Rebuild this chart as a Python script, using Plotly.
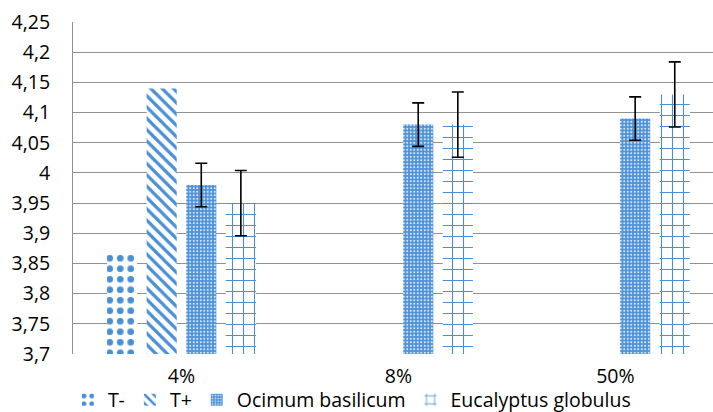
import plotly.graph_objects as go

categories = ["4%", "8%", "50%"]
t_minus = [3.87, None, None]
t_plus = [4.14, None, None]
ocimum = [3.98, 4.08, 4.09]
ocimum_err = [0.036, 0.036, 0.036]
eucalyptus = [3.95, 4.08, 4.13]
eucalyptus_err = [0.054, 0.054, 0.054]
y_ticks = [3.7, 3.75, 3.8, 3.85, 3.9, 3.95, 4.0, 4.05, 4.1, 4.15, 4.2, 4.25]
y_tick_labels = ["3,7", "3,75", "3,8", "3,85", "3,9", "3,95", "4", "4,05", "4,1", "4,15", "4,2", "4,25"]

BLUE = "#4a8fd6"
FONT = "Open Sans"
FS = 19.5

fig = go.Figure()
fig.add_trace(go.Bar(
    name="T-", x=categories, y=t_minus,
    marker=dict(color="white", line=dict(width=0),
                pattern=dict(shape=".", fgcolor=BLUE, bgcolor="white", size=10.5, solidity=0.32,
                             fillmode="replace", fgopacity=1)),
))
fig.add_trace(go.Bar(
    name="T+", x=categories, y=t_plus,
    marker=dict(color="white", line=dict(width=0),
                pattern=dict(shape="\\", fgcolor=BLUE, bgcolor="white", size=8, solidity=0.4,
                             fillmode="replace", fgopacity=1)),
))
fig.add_trace(go.Bar(
    name="Ocimum basilicum", x=categories, y=ocimum,
    marker=dict(color=BLUE, line=dict(width=0),
                pattern=dict(shape=".", fgcolor="#d2e4f7", bgcolor=BLUE, size=3.5, solidity=0.3,
                             fillmode="replace", fgopacity=1)),
    error_y=dict(type="data", array=ocimum_err, color="black", thickness=1.6, width=6),
))
fig.add_trace(go.Bar(
    name="Eucalyptus globulus", x=categories, y=eucalyptus,
    marker=dict(color="white", line=dict(width=0),
                pattern=dict(shape="+", fgcolor=BLUE, bgcolor="white", size=11, solidity=0.19,
                             fillmode="replace", fgopacity=1)),
    error_y=dict(type="data", array=eucalyptus_err, color="black", thickness=1.6, width=6),
))

fig.update_layout(
    width=713, height=412,
    margin=dict(l=73, r=0, t=22, b=58, autoexpand=False),
    paper_bgcolor="white", plot_bgcolor="white",
    barmode="group", bargap=0.27, bargroupgap=0.24,
    font=dict(family=FONT, size=FS, color="black"),
    showlegend=True,
    legend=dict(orientation="h", x=-0.008, xanchor="left", xref="paper",
                y=-0.139, yanchor="middle", yref="paper",
                font=dict(family=FONT, size=FS, color="black"),
                itemwidth=30, tracegroupgap=0, bgcolor="rgba(0,0,0,0)"),
)
fig.update_xaxes(
    type="category", range=[-0.5, 2.45], automargin=False,
    showline=False, showgrid=False, ticks="", ticklabelstandoff=8,
    tickfont=dict(family=FONT, size=FS),
)
fig.update_yaxes(
    range=[3.7, 4.25], tickvals=y_ticks, ticktext=y_tick_labels, automargin=False,
    showgrid=True, gridcolor="#919191", gridwidth=1,
    showline=True, linecolor="#919191", linewidth=1,
    zeroline=False, ticks="", ticklabelstandoff=18,
    tickfont=dict(family=FONT, size=FS),
)

fig.write_html(
    "out.html",
    config={"displayModeBar": False},
    post_script="document.body.style.margin='0';document.body.style.overflow='hidden';",
)
